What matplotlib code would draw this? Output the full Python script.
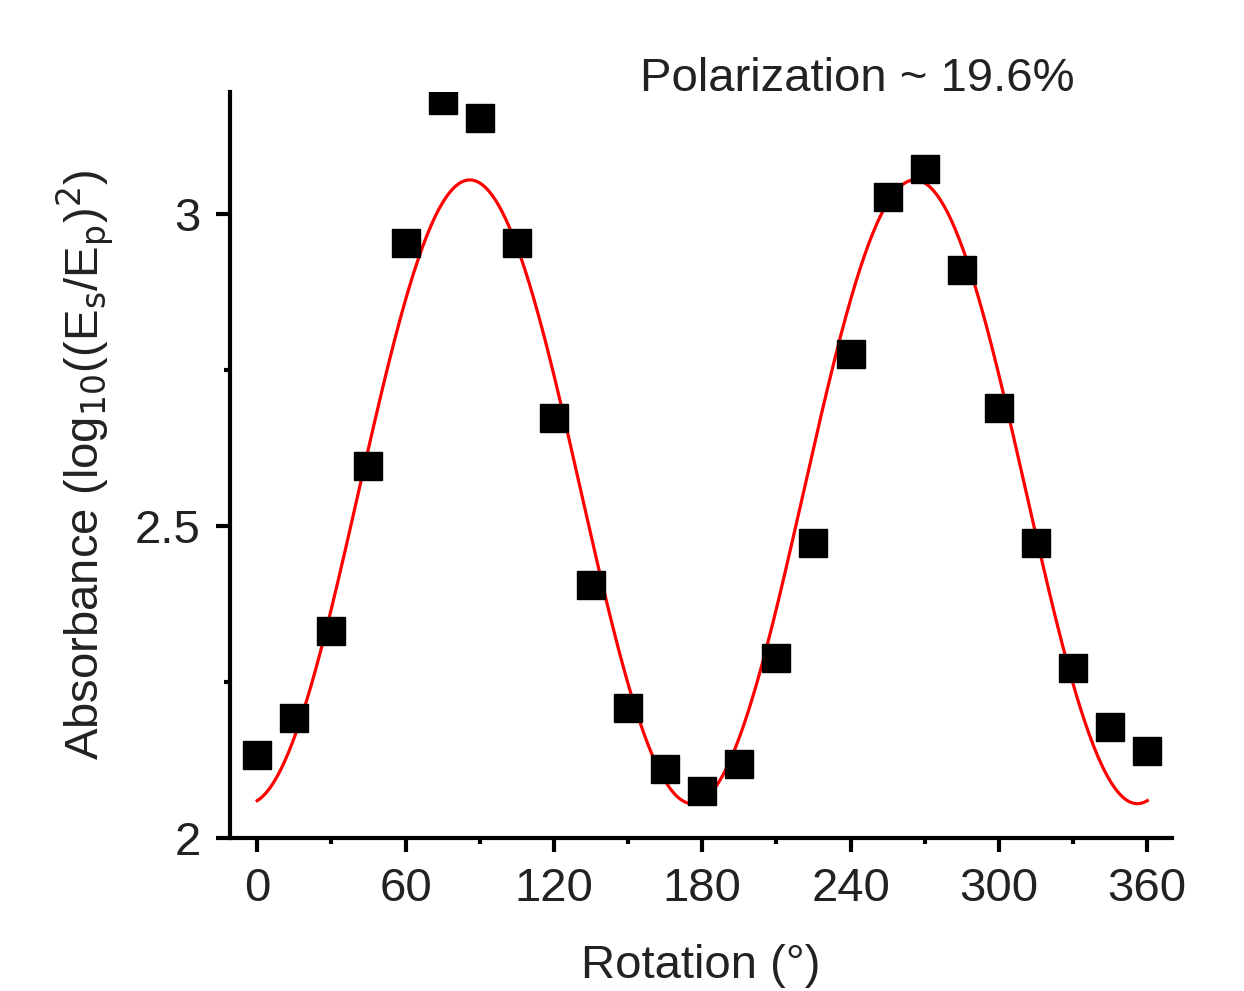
import numpy as np
import matplotlib
matplotlib.use('Agg')
import matplotlib.pyplot as plt
from matplotlib.ticker import MultipleLocator

# measured absorbance vs rotation angle
rotation=[0,15,30,45,60,75,90,105,120,135,150,165,180,195,210,225,240,255,270,285,300,315,330,345,360]
absorbance=[2.133,2.192,2.332,2.596,2.954,3.183,3.154,2.954,2.673,2.405,2.208,2.111,2.075,2.119,2.288,2.473,
	2.776,3.027,3.072,2.910,2.689,2.473,2.272,2.178,2.139]

# sin^2 fit parameters
fit_offset=2.055
fit_amplitude=1.0
fit_phase=-4.0
fit_range=(0,360)

title_text="Polarization ~ 19.6%"

def main():
	plt.rcParams['font.family']=['Liberation Sans','DejaVu Sans']
	fig=plt.figure(figsize=(12.44,9.91),dpi=100)
	ax=fig.add_axes([0.1849,0.1544,0.7572,0.7528])
	theta=np.linspace(fit_range[0],fit_range[1],400)
	fit=fit_offset+fit_amplitude*np.sin(np.radians(theta-fit_phase))**2
	ax.plot(theta,fit,color='#ff0000',linewidth=2.3,zorder=2)
	ax.plot(rotation,absorbance,linestyle='none',marker='s',markersize=20,color='black',zorder=3)
	ax.set_xlim(-11,370)
	ax.set_ylim(2,3.196)
	ax.xaxis.set_major_locator(MultipleLocator(60))
	ax.xaxis.set_minor_locator(MultipleLocator(30))
	ax.yaxis.set_minor_locator(MultipleLocator(0.25))
	ax.set_yticks([2,2.5,3])
	ax.set_yticklabels(['2','2.5','3'])
	for s in ['top','right']:
		ax.spines[s].set_visible(False)
	for s in ['left','bottom']:
		ax.spines[s].set_linewidth(3)
	text_color='#222222'
	fs=34
	ax.tick_params(which='major',direction='out',length=10,width=3,labelsize=fs,colors='black',labelcolor=text_color,pad=11)
	ax.tick_params(which='minor',direction='out',length=4,width=3,colors='black')
	ax.set_xlabel("Rotation (°)",fontsize=fs,color=text_color,labelpad=24)
	ax.set_ylabel("Absorbance (log$_{10}$((E$_\\mathrm{s}$/E$_\\mathrm{p}$)$^2$)",fontsize=fs,color=text_color,labelpad=14)
	fig.text(640/1244,1-79/991,title_text,fontsize=fs,color=text_color,ha='left',va='center')
	fig.savefig('out.png',dpi=100)
	plt.close()

if __name__=="__main__":
	main()
